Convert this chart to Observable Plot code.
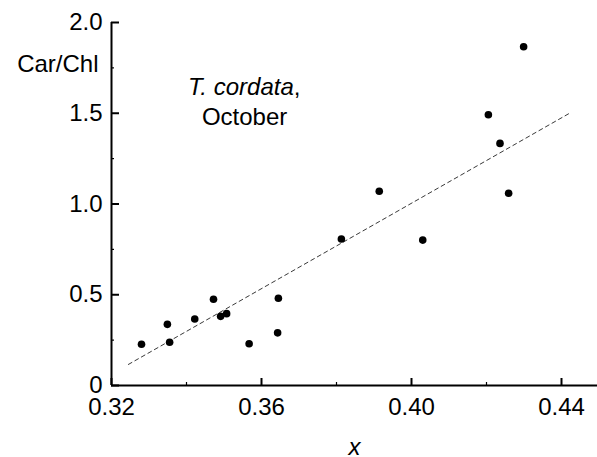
<!DOCTYPE html>
<html>
<head>
<meta charset="utf-8">
<script src="https://cdn.jsdelivr.net/npm/d3@7"></script>
<script src="https://cdn.jsdelivr.net/npm/@observablehq/plot@0.6"></script>
<style>
  html, body { margin: 0; padding: 0; background: #fff; }
  #chart svg { font-family: "Liberation Sans", Arial, sans-serif; }
  #chart g[aria-label="x-axis label"] text { font-style: italic; }
</style>
</head>
<body>
<div id="chart"></div>
<script>
// Measured data points (x, Car/Chl)
const xVals = [0.3280, 0.3349, 0.3355, 0.3422, 0.3472, 0.3491, 0.3507, 0.3567, 0.3645, 0.3643, 0.3813, 0.3914, 0.4030, 0.4205, 0.4236, 0.4259, 0.4299];
const yVals = [0.227, 0.337, 0.238, 0.366, 0.475, 0.381, 0.396, 0.230, 0.481, 0.290, 0.807, 1.070, 0.801, 1.492, 1.334, 1.059, 1.866];

// Regression line endpoints
const fitX = [0.3245, 0.4424];
const fitY = [0.116, 1.503];

// Axis ticks
const xTicks = [0.32, 0.36, 0.40, 0.44];
const xMinor = [0.34, 0.38, 0.42];
const yTicks = [0, 0.5, 1.0, 1.5, 2.0];
const yMinor = [0.25, 0.75, 1.25, 1.75];

// Labels
const yLabel = "Car/Chl";
const xLabel = "x";
const noteSpecies = "T. cordata";
const noteMonth = "October";
const yLabelPos = {x: 0.32, y: 1.77};
const notePos = {x: 0.3686, y: 1.641, x2: 0.3555, y2: 1.475};

const points = xVals.map((x, i) => ({x, y: yVals[i]}));
const fit = fitX.map((x, i) => ({x, y: fitY[i]}));

const fs = 24;

const chart = Plot.plot({
  width: 597,
  height: 457,
  marginLeft: 111,
  marginRight: 0,
  marginTop: 22,
  marginBottom: 72,
  style: {fontSize: fs + "px", color: "#000", background: "#fff"},
  x: {domain: [0.32, 0.4496], label: null},
  y: {domain: [0, 2.0], label: null},
  marks: [
    // axis lines
    Plot.ruleX([0.32], {stroke: "#000", strokeWidth: 2}),
    Plot.ruleY([0], {stroke: "#000", strokeWidth: 2}),
    // y axis: major inward ticks, minor inward ticks, labels
    Plot.axisY({ticks: yTicks, tickSize: -8, text: null, strokeWidth: 2, label: null}),
    Plot.axisY({ticks: yMinor, tickSize: -3, text: null, strokeWidth: 1.2, label: null}),
    Plot.axisY({ticks: yTicks, tickSize: 0, tickPadding: 9, fontSize: fs,
      tickFormat: d => d === 0 ? "0" : d.toFixed(1), label: null}),
    // x axis
    Plot.axisX({ticks: xTicks, tickSize: -7, text: null, strokeWidth: 2, label: null}),
    Plot.axisX({ticks: xMinor, tickSize: -3, text: null, strokeWidth: 1.2, label: null}),
    Plot.axisX({ticks: xTicks, tickSize: 0, tickPadding: 12, fontSize: fs,
      tickFormat: d3.format(".2f"), label: xLabel, labelAnchor: "center", labelArrow: "none", labelOffset: 69}),
    // regression line
    Plot.line(fit, {x: "x", y: "y", stroke: "#222", strokeWidth: 0.9, strokeDasharray: "4,3.5"}),
    // data points
    Plot.dot(points, {x: "x", y: "y", r: 3.8, fill: "#000", stroke: null}),
    // y-axis title
    Plot.text([yLabel], {x: () => yLabelPos.x, y: () => yLabelPos.y, dx: -13, textAnchor: "end", fontSize: fs, fill: "#000"}),
    // annotation
    Plot.text([noteSpecies], {x: () => notePos.x, y: () => notePos.y, textAnchor: "end", fontSize: fs, fontStyle: "italic", fill: "#000"}),
    Plot.text([","], {x: () => notePos.x, y: () => notePos.y, textAnchor: "start", fontSize: fs, fill: "#000"}),
    Plot.text([noteMonth], {x: () => notePos.x2, y: () => notePos.y2, textAnchor: "middle", fontSize: fs, fill: "#000"})
  ]
});
document.getElementById("chart").appendChild(chart);
</script>
</body>
</html>
